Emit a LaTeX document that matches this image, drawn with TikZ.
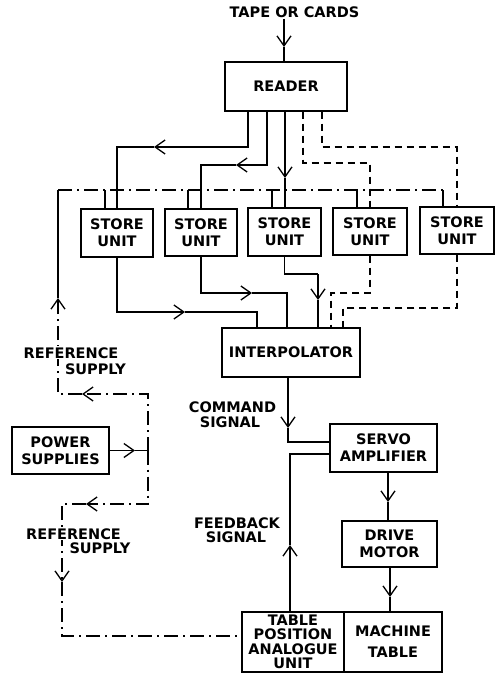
\documentclass[tikz,border=0pt]{standalone}
\usepackage{fontspec}
\setmainfont{DejaVu Sans}
\usetikzlibrary{arrows.meta}
\newcommand\diaglbl{\bfseries\fontsize{14.5}{17}\selectfont}
\begin{document}
\begin{tikzpicture}[x=1pt,y=-1pt,
  line width=1.3pt,
  box/.style={draw, inner sep=0pt, align=center, font=\diaglbl},
  lbl/.style={inner sep=0pt, align=center, font=\diaglbl, anchor=base},
  tip/.style={-{Straight Barb[length=10pt,width=14pt]}},
  dsh/.style={dash pattern=on 7pt off 5pt},
  refl/.style={dash pattern=on 14pt off 5pt on 2pt off 5pt},
]
\useasboundingbox (0,0) rectangle (497,674);

% boxes
\node[lbl] (tape) at (294.5,18) {TAPE OR CARDS};
\node[box, minimum width=122pt, minimum height=49pt] (reader) at (286,86.5) {READER};
\node[box, minimum width=72pt, minimum height=48pt] (s1) at (117,233) {STORE\\UNIT};
\node[box, minimum width=72pt, minimum height=47pt] (s2) at (201,232.5) {STORE\\UNIT};
\node[box, minimum width=73pt, minimum height=48pt] (s3) at (284.5,232) {STORE\\UNIT};
\node[box, minimum width=74pt, minimum height=47pt] (s4) at (370,231.5) {STORE\\UNIT};
\node[box, minimum width=74pt, minimum height=47pt] (s5) at (457,230.5) {STORE\\UNIT};
\node[box, minimum width=138pt, minimum height=49pt] (interp) at (291,352.5) {INTERPOLATOR};
\node[box, minimum width=97pt, minimum height=47pt] (ps) at (60.5,450.5) {POWER\\SUPPLIES};
\node[box, minimum width=107pt, minimum height=48pt] (servo) at (383.5,448) {SERVO\\AMPLIFIER};
\node[box, minimum width=95pt, minimum height=46pt] (drive) at (389.5,544) {DRIVE\\MOTOR};
\node[box, minimum width=102pt, minimum height=60pt, font=\bfseries\fontsize{14.5}{14.5}\selectfont] (tpau) at (293,642) {TABLE\\POSITION\\ANALOGUE\\UNIT};
\node[box, minimum width=98pt, minimum height=60pt, font=\bfseries\fontsize{14.5}{21}\selectfont] (mtable) at (393,642) {MACHINE\\TABLE};

% coordinates
\coordinate (ta) at (284,47);
\coordinate (b1) at (248,147);
\coordinate (a1) at (154,147);
\coordinate (b2) at (267,165);
\coordinate (a2) at (236,165);
\coordinate (a3) at (285,178);
\coordinate (b4) at (303,163);
\coordinate (b5) at (322,147);
\coordinate (bus) at (58,190);
\coordinate (t1) at ([xshift=-12pt]s1.north);
\coordinate (t2) at ([xshift=-13pt]s2.north);
\coordinate (t3) at ([xshift=-12.5pt]s3.north);
\coordinate (t4) at ([xshift=-13pt]s4.north);
\coordinate (t5) at ([xshift=-14pt]s5.north);

% tape to reader
\draw[tip] (tape.south -| ta) -- (ta);
\draw (ta) -- (ta |- reader.north);

% reader to stores
\draw[tip] (reader.south -| b1) -- (b1) -- (a1);
\draw (a1) -| (s1.north);
\draw[tip] (reader.south -| b2) -- (b2) -- (a2);
\draw (a2) -| (s2.north);
\draw[tip] (reader.south -| a3) -- (a3);
\draw (a3) -- (a3 |- s3.north);
\draw[dsh] (reader.south -| b4) -- (b4) -| (s4.north);
\draw[dsh] (reader.south -| b5) -- (b5) -| (s5.north);

% reference bus and taps
\draw[refl] (bus) -- (bus -| t5);
\draw (t1 |- bus) -- (t1);
\draw (t2 |- bus) -- (t2);
\draw (t3 |- bus) -- (t3);
\draw (t4 |- bus) -- (t4);
\draw (t5 |- bus) -- (t5);

% power supplies and reference supply loops
\coordinate (pa) at (135,450.5);
\coordinate (J) at (148,450.5);
\coordinate (u1) at (148,394);
\coordinate (ua) at (82,394);
\coordinate (u2) at (58,394);
\coordinate (ub) at (58,298);
\coordinate (d1) at (148,504);
\coordinate (da) at (86,504);
\coordinate (d2) at (62,504);
\coordinate (db) at (62,582);
\coordinate (d3) at (62,636);
\draw[tip] (ps.east) -- (pa);
\draw (pa) -- (J);
\draw[refl,tip] (J) -- (u1) -- (ua);
\draw[refl,tip] (ua) -- (u2) -- (ub);
\draw (ub) -- (bus);
\draw[refl,tip] (J) -- (d1) -- (da);
\draw[refl,tip] (da) -- (d2) -- (db);
\draw[refl] (db) -- (d3) -- (d3 -| tpau.west);

% stores to interpolator
\coordinate (c1) at (118,312);
\coordinate (c1a) at (185,312);
\coordinate (c1b) at (257,312);
\coordinate (c2) at (202,293);
\coordinate (c2a) at (252,293);
\coordinate (c2b) at (287,293);
\coordinate (c3b) at (318,274);
\coordinate (c3a) at (318,300);
\coordinate (c4) at (331,293);
\coordinate (c5) at (343,308);
\draw[tip] (s1.south) -- (s1.south |- c1) -- (c1a);
\draw (c1a) -- (c1b) -- (c1b |- interp.north);
\draw[tip] (s2.south) -- (s2.south |- c2) -- (c2a);
\draw (c2a) -- (c2b) -- (c2b |- interp.north);
\draw (s3.south) |- (c3b);
\draw[tip] (c3b) -- (c3a);
\draw (c3a) -- (c3a |- interp.north);
\draw[dsh] (s4.south) |- (c4) -- (c4 |- interp.north);
\draw[dsh] (s5.south) |- (c5) -- (c5 |- interp.north);

% interpolator to servo, feedback
\coordinate (ia) at (288,428);
\coordinate (i1) at (288,442);
\coordinate (fa) at (290,545);
\coordinate (f1) at (290,454);
\draw[tip] (interp.south -| ia) -- (ia);
\draw (ia) -- (i1) -- (i1 -| servo.west);
\draw[tip] (tpau.north -| fa) -- (fa);
\draw (fa) -- (f1) -- (f1 -| servo.west);

% servo to drive to table
\coordinate (sa) at (388,502);
\coordinate (ma) at (390,597);
\draw[tip] (servo.south -| sa) -- (sa);
\draw (sa) -- (sa |- drive.north);
\draw[tip] (drive.south -| ma) -- (ma);
\draw (ma) -- (ma |- mtable.north);

% labels
\node[lbl, fill=white, inner sep=1pt] (ref1a) at (71,358) {REFERENCE};
\node[lbl] (ref1b) at (95.5,374) {SUPPLY};
\node[lbl, fill=white, inner sep=1pt] (ref2a) at (73.5,539) {REFERENCE};
\node[lbl] (ref2b) at (100,553) {SUPPLY};
\node[lbl] (cmd1) at (232.5,412) {COMMAND};
\node[lbl] (cmd2) at (230,427) {SIGNAL};
\node[lbl] (fb1) at (237,528) {FEEDBACK};
\node[lbl] (fb2) at (236,542) {SIGNAL};
\end{tikzpicture}
\end{document}
